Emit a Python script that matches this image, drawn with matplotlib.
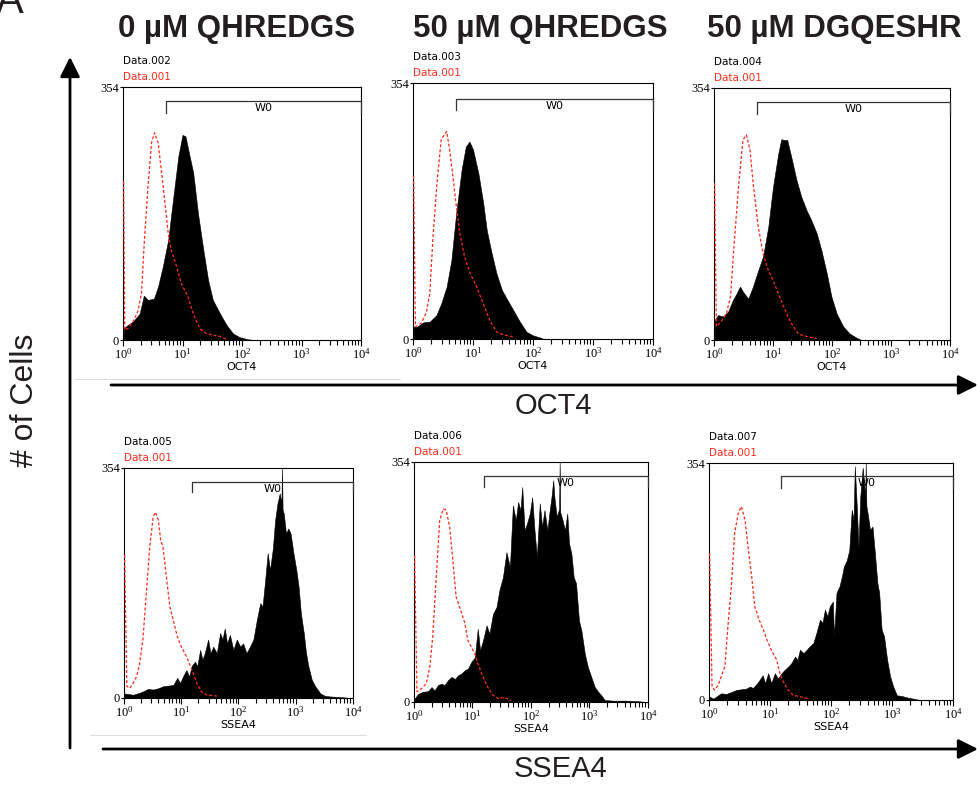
import numpy as np
import matplotlib
matplotlib.use('Agg')
import matplotlib.pyplot as plt
from matplotlib.patches import FancyArrowPatch
from matplotlib.lines import Line2D

plt.rcParams['font.family'] = ['Liberation Sans', 'DejaVu Sans']
plt.rcParams['mathtext.default'] = 'regular'

W, H = 978, 787

titles = ['0 µM QHREDGS', '50 µM QHREDGS', '50 µM DGQESHR']
markers = ['OCT4', 'SSEA4']
sample_names = ['Data.002', 'Data.003', 'Data.004', 'Data.005', 'Data.006', 'Data.007']
control_name = 'Data.001'
y_max = 354

# histograms: x in log10(intensity), y = # of cells
# OCT4, 0 uM QHREDGS
oct4_a_x = [0.01, 0.08, 0.17, 0.28, 0.35, 0.42, 0.52, 0.59, 0.67, 0.76, 0.84, 0.93, 1.00, 1.05,
            1.12, 1.18, 1.26, 1.35, 1.43, 1.51, 1.63, 1.74, 1.85, 1.96, 2.10, 2.20]
oct4_a_y = [16, 21, 26, 37, 62, 56, 58, 75, 103, 140, 196, 257, 287, 285,
            257, 234, 177, 126, 84, 56, 37, 21, 9, 4, 1, 0]
ctrl_a_x = [0.01, 0.03, 0.08, 0.17, 0.25, 0.31, 0.36, 0.42, 0.48, 0.53, 0.59, 0.65, 0.70, 0.76,
            0.81, 0.90, 0.98, 1.09, 1.18, 1.29, 1.40, 1.51, 1.63, 1.74]
ctrl_a_y = [222, 14, 16, 26, 40, 65, 140, 215, 276, 290, 276, 233, 196, 149,
            126, 103, 79, 61, 37, 16, 9, 7, 5, 1]

# OCT4, 50 uM QHREDGS
oct4_b_x = [0.01, 0.07, 0.17, 0.28, 0.39, 0.47, 0.56, 0.64, 0.72, 0.81, 0.88, 0.94, 1.00, 1.09,
            1.17, 1.23, 1.31, 1.39, 1.48, 1.56, 1.67, 1.78, 1.89, 2.00, 2.12, 2.18]
oct4_b_y = [17, 17, 23, 24, 33, 49, 72, 109, 174, 234, 266, 273, 262, 229,
            188, 150, 119, 91, 68, 56, 40, 24, 10, 5, 2, 0]
ctrl_b_x = [0.01, 0.04, 0.14, 0.22, 0.28, 0.33, 0.40, 0.47, 0.56, 0.61, 0.66, 0.71, 0.78, 0.86,
            0.95, 1.06, 1.17, 1.28, 1.39, 1.50, 1.67]
ctrl_b_y = [225, 17, 22, 36, 63, 137, 216, 276, 287, 262, 229, 192, 146, 114,
            91, 72, 49, 26, 10, 6, 3]

# OCT4, 50 uM DGQESHR
oct4_c_x = [0.01, 0.07, 0.15, 0.24, 0.32, 0.38, 0.44, 0.49, 0.58, 0.66, 0.75, 0.83, 0.92, 1.00,
            1.09, 1.14, 1.19, 1.24, 1.31, 1.40, 1.48, 1.57, 1.65, 1.74, 1.82, 1.91, 1.99, 2.08,
            2.19, 2.30, 2.42, 2.50]
oct4_c_y = [28, 35, 33, 40, 56, 65, 75, 68, 58, 75, 98, 117, 159, 215,
            262, 282, 281, 281, 257, 224, 201, 182, 168, 150, 126, 94, 61, 37,
            19, 9, 3, 0]
ctrl_c_x = [0.01, 0.04, 0.12, 0.21, 0.28, 0.33, 0.41, 0.49, 0.55, 0.61, 0.67, 0.75, 0.83, 0.92,
            1.00, 1.11, 1.23, 1.34, 1.44, 1.57, 1.74]
ctrl_c_y = [220, 19, 26, 37, 61, 122, 210, 281, 288, 267, 215, 159, 122, 98,
            84, 61, 37, 19, 8, 5, 2]

# SSEA4, 0 uM QHREDGS
ssea4_a_x = [0.01, 0.16, 0.27, 0.33, 0.42, 0.51, 0.60, 0.68, 0.77, 0.86, 0.93, 0.98, 1.03, 1.09,
             1.14, 1.18, 1.24, 1.28, 1.33, 1.37, 1.41, 1.47, 1.51, 1.56, 1.62, 1.68, 1.72, 1.76,
             1.80, 1.85, 1.91, 1.97, 2.03, 2.08, 2.14, 2.20, 2.26, 2.32, 2.38, 2.42, 2.46, 2.51,
             2.55, 2.60, 2.64, 2.68, 2.72, 2.75, 2.76, 2.77, 2.79, 2.83, 2.87, 2.91, 2.96, 3.01,
             3.05, 3.09, 3.14, 3.18, 3.22, 3.28, 3.34, 3.43, 3.52, 3.66, 3.84, 3.95]
ssea4_a_y = [7, 5, 8, 10, 14, 13, 15, 18, 19, 20, 31, 23, 33, 43,
             33, 49, 56, 49, 74, 59, 69, 90, 69, 79, 69, 100, 90, 107,
             84, 97, 74, 90, 79, 84, 69, 79, 90, 120, 146, 141, 176, 223,
             197, 230, 274, 299, 315, 300, 354, 290, 284, 253, 261, 253, 223, 197,
             171, 130, 100, 69, 49, 28, 18, 7, 3, 2, 1, 0]
ctrl_d_x = [0.01, 0.05, 0.10, 0.16, 0.22, 0.27, 0.33, 0.39, 0.45, 0.51, 0.55, 0.60, 0.64, 0.68,
            0.74, 0.80, 0.86, 0.93, 1.00, 1.09, 1.15, 1.21, 1.27, 1.35, 1.44, 1.62]
ctrl_d_y = [220, 18, 15, 23, 33, 51, 90, 161, 233, 279, 286, 274, 243, 233,
            187, 141, 120, 95, 79, 64, 51, 38, 23, 10, 5, 3]

# SSEA4, 50 uM QHREDGS
ssea4_b_x = [0.01, 0.07, 0.15, 0.24, 0.30, 0.35, 0.41, 0.47, 0.52, 0.58, 0.64, 0.70, 0.75, 0.81,
             0.87, 0.92, 0.98, 1.04, 1.09, 1.13, 1.18, 1.24, 1.29, 1.35, 1.41, 1.46, 1.52, 1.58,
             1.64, 1.69, 1.74, 1.78, 1.82, 1.85, 1.89, 1.93, 1.98, 2.02, 2.06, 2.10, 2.15, 2.19,
             2.23, 2.28, 2.32, 2.35, 2.38, 2.40, 2.44, 2.48, 2.49, 2.50, 2.54, 2.58, 2.62, 2.65,
             2.69, 2.73, 2.77, 2.82, 2.86, 2.92, 2.97, 3.03, 3.09, 3.15, 3.20, 3.26, 3.40, 3.63,
             3.86, 3.95]
ssea4_b_y = [5, 12, 15, 16, 22, 17, 25, 27, 25, 32, 37, 34, 39, 42,
             47, 49, 59, 66, 108, 76, 91, 113, 101, 130, 140, 165, 184, 221,
             199, 290, 268, 295, 283, 317, 253, 263, 278, 302, 253, 214, 293, 258,
             283, 253, 283, 302, 327, 302, 273, 285, 354, 280, 268, 253, 278, 234,
             219, 184, 175, 120, 106, 71, 52, 37, 22, 15, 10, 3, 2, 2,
             1, 0]
ctrl_e_x = [0.01, 0.05, 0.13, 0.21, 0.27, 0.32, 0.38, 0.44, 0.50, 0.55, 0.61, 0.67, 0.72, 0.78,
            0.87, 0.92, 0.98, 1.04, 1.09, 1.18, 1.26, 1.35, 1.44, 1.55, 1.66]
ctrl_e_y = [216, 15, 20, 27, 52, 96, 184, 268, 285, 283, 258, 204, 155, 140,
            116, 91, 81, 71, 57, 37, 22, 10, 5, 7, 2]

# SSEA4, 50 uM DGQESHR
ssea4_c_x = [0.01, 0.07, 0.15, 0.20, 0.28, 0.37, 0.45, 0.53, 0.61, 0.67, 0.72, 0.79, 0.83, 0.88,
             0.92, 0.97, 1.02, 1.08, 1.13, 1.19, 1.24, 1.30, 1.35, 1.41, 1.45, 1.49, 1.55, 1.60,
             1.65, 1.71, 1.76, 1.82, 1.86, 1.90, 1.94, 1.98, 2.03, 2.05, 2.09, 2.14, 2.18, 2.21,
             2.26, 2.30, 2.34, 2.37, 2.39, 2.42, 2.45, 2.48, 2.52, 2.56, 2.57, 2.58, 2.60, 2.64,
             2.68, 2.72, 2.76, 2.79, 2.83, 2.87, 2.92, 2.97, 3.02, 3.08, 3.16, 3.24, 3.35, 3.46]
ssea4_c_y = [5, 2, 7, 10, 9, 12, 15, 16, 17, 20, 18, 25, 30, 37,
             25, 40, 25, 40, 32, 40, 45, 50, 55, 65, 60, 75, 70, 75,
             80, 85, 100, 120, 115, 135, 125, 140, 147, 95, 160, 170, 185, 199,
             209, 224, 284, 269, 349, 294, 229, 304, 347, 304, 354, 290, 279, 254,
             259, 219, 175, 160, 105, 95, 60, 35, 20, 7, 6, 4, 2, 0]
ctrl_f_x = [0.01, 0.05, 0.09, 0.15, 0.20, 0.26, 0.31, 0.37, 0.42, 0.48, 0.53, 0.59, 0.64, 0.70,
            0.75, 0.82, 0.89, 0.95, 1.02, 1.11, 1.16, 1.23, 1.30, 1.38, 1.49, 1.63]
ctrl_f_y = [219, 20, 15, 22, 35, 50, 110, 175, 249, 279, 289, 269, 229, 184,
            140, 120, 105, 90, 75, 60, 40, 25, 15, 7, 5, 2]

# W0 gate: left edge (log10), bar level, end-tick level
gate_left = [0.72, 0.72, 0.73, 1.18, 1.19, 1.18]
gate_level = [335, 332, 334, 333, 333, 334]
gate_tick = [318, 316, 317, 317, 317, 317]

samples = [(oct4_a_x, oct4_a_y), (oct4_b_x, oct4_b_y), (oct4_c_x, oct4_c_y),
           (ssea4_a_x, ssea4_a_y), (ssea4_b_x, ssea4_b_y), (ssea4_c_x, ssea4_c_y)]
controls = [(ctrl_a_x, ctrl_a_y), (ctrl_b_x, ctrl_b_y), (ctrl_c_x, ctrl_c_y),
            (ctrl_d_x, ctrl_d_y), (ctrl_e_x, ctrl_e_y), (ctrl_f_x, ctrl_f_y)]

# panel boxes in pixels (left, top, right, bottom)
boxes = [(123, 87, 361, 340), (413, 83, 653, 339), (714, 88, 950, 340),
         (124, 468, 353, 698), (414, 462, 648, 702), (709, 463, 953, 700)]

RED = '#ff2a1a'


def fx(px):
    return px / W


def fy(py):
    return 1 - py / H


fig = plt.figure(figsize=(W / 100, H / 100), dpi=100)

for i, (l, t, r, b) in enumerate(boxes):
    ax = fig.add_axes([fx(l), fy(b), (r - l) / W, (b - t) / H])
    sx, sy = samples[i]
    cx, cy = controls[i]
    ax.fill_between(10 ** np.array(sx), 0, sy, facecolor='black', edgecolor='black',
                    lw=0.4, zorder=2)
    ax.plot(10 ** np.array(cx), cy, color=RED, lw=0.9, dashes=(2.4, 1.6), zorder=3)

    ax.set_xscale('log')
    ax.set_xlim(1, 1e4)
    ax.set_ylim(0, y_max)
    ax.set_yticks([0, y_max])
    ax.set_yticklabels(['0', str(y_max)])
    for s in ax.spines.values():
        s.set_linewidth(0.8)
    ax.tick_params(axis='x', which='major', length=4, width=0.8, pad=1,
                   labelsize=9, labelfontfamily='Liberation Serif')
    ax.tick_params(axis='x', which='minor', length=3.5, width=0.8)
    ax.tick_params(axis='y', length=2.5, width=0.8, pad=0.5,
                   labelsize=9, labelfontfamily='Liberation Serif')
    ax.set_xlabel(markers[i // 3], fontsize=8, family='DejaVu Sans', labelpad=0)

    # W0 gate bracket
    g0 = 10 ** gate_left[i]
    ax.plot([g0, g0, 1e4, 1e4], [gate_tick[i], gate_level[i], gate_level[i], gate_tick[i]],
            color='#333333', lw=0.9, clip_on=False, zorder=4)
    ax.annotate('W0', xy=(10 ** ((gate_left[i] + 4) / 2), gate_level[i]), xytext=(0, -1.5),
                textcoords='offset points', ha='center', va='top', fontsize=8,
                family='DejaVu Sans', zorder=1)

    fig.text(fx(l), fy(t - 26), sample_names[i], fontsize=7.5, family='DejaVu Sans',
             va='center', ha='left')
    fig.text(fx(l), fy(t - 10), control_name, fontsize=7.5, family='DejaVu Sans',
             color=RED, va='center', ha='left')

# column titles
for xc, title in zip([237, 540, 834], titles):
    fig.text(fx(xc), fy(37), title, fontsize=22.5, weight='bold', color='#231f20',
             ha='center', va='baseline')

fig.text(fx(-4), fy(13), 'A', fontsize=30, color='#231f20', ha='left', va='baseline')

# faint image edges
fig.add_artist(Line2D([fx(74), fx(400)], [fy(379), fy(379)], color='#dddddd', lw=0.7))
fig.add_artist(Line2D([fx(90), fx(366)], [fy(735), fy(735)], color='#dddddd', lw=0.7))

# arrows
arrow_style = '-|>,head_length=1.2,head_width=0.6'
for p0, p1 in [((70, 748), (70, 57)), ((111, 385), (978, 385)), ((103, 749), (978, 749))]:
    fig.add_artist(FancyArrowPatch((fx(p0[0]), fy(p0[1])), (fx(p1[0]), fy(p1[1])),
                                   transform=fig.transFigure, arrowstyle=arrow_style,
                                   mutation_scale=10, lw=2, color='black',
                                   shrinkA=0, shrinkB=0))

fig.text(fx(553), fy(406), markers[0], fontsize=21, color='#231f20', ha='center', va='center')
fig.text(fx(561), fy(769), markers[1], fontsize=21, color='#231f20', ha='center', va='center')
fig.text(fx(25), fy(400), '# of Cells', fontsize=23, color='#231f20', rotation=90,
         ha='center', va='center')

fig.savefig('out.png', dpi=100)
